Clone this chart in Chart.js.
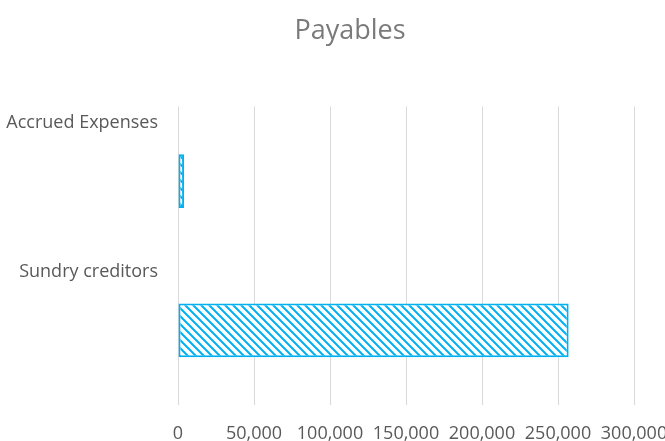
<!DOCTYPE html>
<html>
<head>
<meta charset="utf-8">
<script src="https://cdn.jsdelivr.net/npm/chart.js@4"></script>
<style>
  html, body { margin: 0; padding: 0; background: #fff; }
  #wrap { width: 665px; height: 441px; }
</style>
</head>
<body>
<div id="wrap"><canvas id="payablesChart"></canvas></div>
<script>
const categories = ["Accrued Expenses", "Sundry creditors"]
const payables = [4000, 257000]
const xMin = 0
const xMax = 300000
const xStep = 50000

const font = "'Open Sans', sans-serif"

// diagonal hatch like the Excel pattern fill
function hatch(color) {
  const tile = document.createElement("canvas")
  tile.width = 8
  tile.height = 8
  const c = tile.getContext("2d")
  c.fillStyle = "#fff"
  c.fillRect(0, 0, 8, 8)
  c.strokeStyle = color
  c.lineWidth = 2
  c.beginPath()
  c.moveTo(-2, -2)
  c.lineTo(10, 10)
  c.moveTo(-10, -2)
  c.lineTo(2, 10)
  c.moveTo(6, -2)
  c.lineTo(18, 10)
  c.stroke()
  return c.createPattern(tile, "repeat")
}

const canvas = document.getElementById("payablesChart")

new Chart(canvas, {
  type: "bar",
  data: {
    labels: categories,
    datasets: [
      {
        label: "Payables",
        data: payables,
        backgroundColor: hatch("#00B0F0"),
        borderColor: "#00B0F0",
        borderWidth: 2,
        borderSkipped: false,
        barPercentage: 0.36,
        categoryPercentage: 1
      }
    ]
  },
  options: {
    indexAxis: "y",
    responsive: true,
    maintainAspectRatio: false,
    animation: false,
    layout: {
      // negative right padding widens the title box so "Payables" sits where Excel put it;
      // the x axis padding below keeps the plot's right edge at 300,000
      padding: { top: 15, right: -35, bottom: 0, left: 0 }
    },
    plugins: {
      legend: { display: false },
      tooltip: { enabled: false },
      title: {
        display: true,
        text: "Payables",
        color: "#7a7a7a",
        font: { family: font, size: 27, weight: "normal" },
        padding: { top: 0, bottom: 59 }
      }
    },
    scales: {
      x: {
        min: xMin,
        max: xMax,
        border: { display: false },
        grid: { color: "#d9d9d9", drawTicks: false },
        ticks: {
          stepSize: xStep,
          padding: 18,
          color: "#595959",
          font: { family: font, size: 18 },
          callback: (v) => v.toLocaleString("en-US")
        },
        afterFit: (scale) => {
          scale.height = 36
          scale.paddingLeft = 0
          scale.paddingRight = 31
        }
      },
      y: {
        border: { display: false },
        grid: { display: false, drawTicks: false },
        ticks: {
          padding: 20,
          color: "#595959",
          font: { family: font, size: 18, lineHeight: 19.4 / 18 },
          // Excel puts the category text well above its bar
          callback: function (value) {
            return [this.getLabelForValue(value), "", "", "", "", "", ""]
          }
        },
        afterFit: (scale) => {
          scale.width = 178
          scale.paddingTop = 0
          scale.paddingBottom = 0
        }
      }
    }
  }
})
</script>
</body>
</html>
